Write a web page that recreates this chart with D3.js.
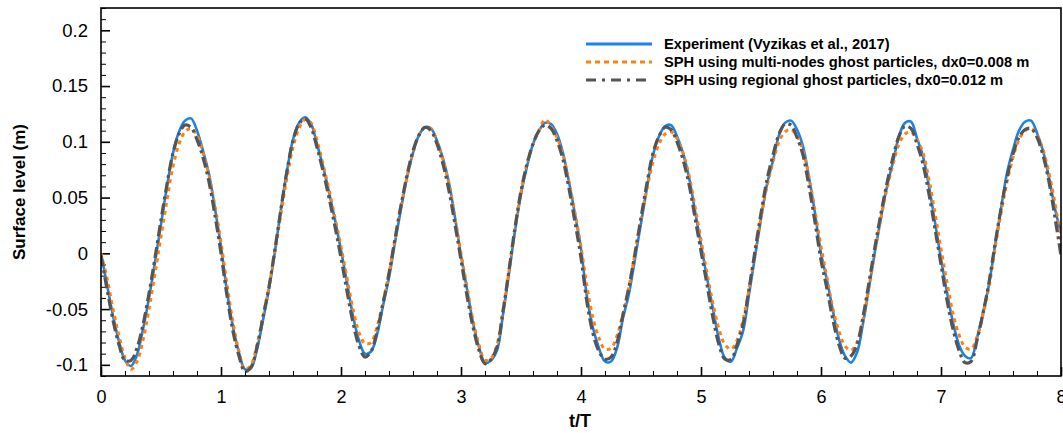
<!DOCTYPE html>
<html><head><meta charset="utf-8">
<script src="https://cdn.jsdelivr.net/npm/d3@7/dist/d3.min.js"></script>
<style>body{margin:0;background:#fff}svg{display:block}text{font-family:"Liberation Sans",Arial,sans-serif}</style>
</head><body><svg id="c" width="1063" height="433"></svg>
<script>
const xTicks = [0,1,2,3,4,5,6,7,8];
const yTicks = [-0.1,-0.05,0,0.05,0.1,0.15,0.2];
const yTickLabels = ["-0.1","-0.05","0","0.05","0.1","0.15","0.2"];
const seriesNames = ["Experiment (Vyzikas et al., 2017)","SPH using multi-nodes ghost particles, dx0=0.008 m","SPH using regional ghost particles, dx0=0.012 m"];
const tStep = 0.05; // t/T sample spacing of the arrays below
const experiment = [
 0.000,-0.028,-0.056,-0.079,-0.096,-0.101,-0.091,-0.068,-0.040,-0.008,
 0.026,0.060,0.090,0.109,0.119,0.121,0.110,0.092,0.071,0.040,
 0.006,-0.034,-0.066,-0.089,-0.104,-0.103,-0.086,-0.060,-0.032,0.002,
 0.040,0.074,0.102,0.117,0.122,0.116,0.098,0.078,0.055,0.030,
 0.003,-0.026,-0.056,-0.078,-0.090,-0.088,-0.073,-0.047,-0.022,0.010,
 0.040,0.068,0.090,0.106,0.113,0.112,0.101,0.085,0.063,0.032,
 -0.002,-0.032,-0.062,-0.084,-0.098,-0.096,-0.087,-0.055,-0.018,0.020,
 0.053,0.078,0.098,0.110,0.117,0.116,0.107,0.090,0.064,0.035,
 0.004,-0.039,-0.067,-0.085,-0.097,-0.097,-0.085,-0.058,-0.036,-0.005,
 0.027,0.059,0.088,0.105,0.114,0.115,0.105,0.090,0.068,0.038,
 0.008,-0.022,-0.050,-0.077,-0.094,-0.097,-0.085,-0.070,-0.037,-0.003,
 0.031,0.062,0.083,0.106,0.117,0.119,0.111,0.096,0.068,0.036,
 0.000,-0.024,-0.052,-0.077,-0.092,-0.098,-0.089,-0.063,-0.031,0.002,
 0.032,0.060,0.082,0.105,0.117,0.118,0.103,0.087,0.060,0.028,
 -0.005,-0.035,-0.062,-0.082,-0.092,-0.094,-0.076,-0.053,-0.028,0.007,
 0.040,0.072,0.093,0.110,0.118,0.119,0.108,0.092,0.068,0.040,
 0.018];
const sphMulti = [
 0.000,-0.022,-0.050,-0.074,-0.094,-0.104,-0.097,-0.078,-0.050,-0.018,
 0.015,0.048,0.078,0.098,0.109,0.112,0.106,0.090,0.070,0.042,
 0.010,-0.028,-0.062,-0.088,-0.104,-0.100,-0.082,-0.057,-0.030,0.002,
 0.036,0.068,0.095,0.112,0.120,0.117,0.101,0.080,0.057,0.032,
 0.006,-0.022,-0.050,-0.071,-0.081,-0.080,-0.066,-0.044,-0.018,0.012,
 0.042,0.068,0.090,0.106,0.113,0.112,0.100,0.084,0.062,0.032,
 0.000,-0.030,-0.060,-0.082,-0.096,-0.094,-0.082,-0.052,-0.016,0.022,
 0.055,0.080,0.098,0.110,0.120,0.114,0.104,0.088,0.064,0.036,
 0.006,-0.030,-0.058,-0.076,-0.086,-0.085,-0.074,-0.054,-0.030,0.000,
 0.030,0.058,0.082,0.098,0.107,0.109,0.103,0.090,0.070,0.042,
 0.012,-0.018,-0.045,-0.068,-0.082,-0.086,-0.078,-0.060,-0.032,0.000,
 0.032,0.060,0.082,0.100,0.109,0.111,0.105,0.092,0.068,0.038,
 0.006,-0.022,-0.050,-0.070,-0.083,-0.087,-0.080,-0.060,-0.030,0.002,
 0.032,0.058,0.080,0.098,0.107,0.109,0.102,0.090,0.066,0.036,
 0.004,-0.026,-0.054,-0.073,-0.084,-0.086,-0.075,-0.055,-0.030,0.004,
 0.036,0.064,0.086,0.102,0.110,0.112,0.106,0.093,0.072,0.045,
 0.012];
const sphRegional = [
 -0.002,-0.032,-0.060,-0.082,-0.096,-0.096,-0.085,-0.064,-0.036,-0.004,
 0.030,0.062,0.090,0.107,0.115,0.113,0.102,0.086,0.064,0.034,
 0.000,-0.038,-0.070,-0.092,-0.106,-0.102,-0.084,-0.057,-0.030,0.004,
 0.040,0.074,0.101,0.116,0.121,0.113,0.095,0.074,0.050,0.024,
 -0.004,-0.034,-0.062,-0.083,-0.093,-0.088,-0.070,-0.045,-0.018,0.013,
 0.043,0.070,0.092,0.106,0.113,0.110,0.098,0.080,0.056,0.026,
 -0.006,-0.038,-0.066,-0.087,-0.099,-0.095,-0.084,-0.052,-0.015,0.023,
 0.056,0.080,0.098,0.110,0.115,0.112,0.101,0.084,0.058,0.028,
 -0.004,-0.044,-0.072,-0.088,-0.095,-0.093,-0.080,-0.055,-0.030,0.000,
 0.032,0.063,0.090,0.105,0.113,0.111,0.100,0.084,0.062,0.032,
 0.002,-0.028,-0.058,-0.082,-0.095,-0.095,-0.082,-0.064,-0.032,0.002,
 0.036,0.066,0.088,0.107,0.116,0.115,0.104,0.088,0.060,0.028,
 -0.006,-0.032,-0.060,-0.082,-0.094,-0.092,-0.082,-0.057,-0.026,0.006,
 0.036,0.063,0.086,0.105,0.114,0.112,0.098,0.080,0.053,0.022,
 -0.010,-0.042,-0.068,-0.087,-0.098,-0.097,-0.078,-0.054,-0.026,0.008,
 0.040,0.068,0.089,0.104,0.111,0.112,0.104,0.088,0.064,0.032,
 -0.002];

const svg = d3.select("#c");
const L = 101, R = 1061, T = 8, B = 376;
const x = d3.scaleLinear().domain([0,8]).range([L,R]);
const y = d3.scaleLinear().domain([-0.11,0.22]).range([B,T]);

svg.append("clipPath").attr("id","clip").append("rect")
  .attr("x",L).attr("y",T).attr("width",R-L).attr("height",B-T);

// minor ticks
const xMinor = d3.range(0,8.0001,0.2).filter(v=>Math.abs(v-Math.round(v))>1e-6);
const yMinor = d3.range(-0.11,0.2201,0.01).map(v=>+v.toFixed(2)).filter(v=>Math.abs(v*20-Math.round(v*20))>1e-6);

const gx = svg.append("g").attr("transform",`translate(0,${B})`)
  .call(d3.axisBottom(x).tickValues(xTicks).tickSizeInner(-9).tickSizeOuter(0).tickPadding(14).tickFormat(d3.format("d")));
gx.select(".domain").remove();
gx.selectAll("text").attr("font-size",18).attr("fill","#000");
gx.selectAll("line").attr("stroke","#000").attr("stroke-width",1.6);
svg.append("g").attr("transform",`translate(0,${B})`)
  .call(d3.axisBottom(x).tickValues(xMinor).tickSizeInner(-5).tickSizeOuter(0).tickFormat(""))
  .call(g=>g.select(".domain").remove())
  .selectAll("line").attr("stroke","#000").attr("stroke-width",1);

const gy = svg.append("g").attr("transform",`translate(${L},0)`)
  .call(d3.axisLeft(y).tickValues(yTicks).tickSizeInner(-9).tickSizeOuter(0).tickPadding(13)
    .tickFormat((d,i)=>yTickLabels[i]));
gy.select(".domain").remove();
gy.selectAll("text").attr("font-size",18.5).attr("fill","#000");
gy.selectAll("line").attr("stroke","#000").attr("stroke-width",1.6);
svg.append("g").attr("transform",`translate(${L},0)`)
  .call(d3.axisLeft(y).tickValues(yMinor).tickSizeInner(-5).tickSizeOuter(0).tickFormat(""))
  .call(g=>g.select(".domain").remove())
  .selectAll("line").attr("stroke","#000").attr("stroke-width",1);

// lines
const line = d3.line().x((d,i)=>x(i*tStep)).y(d=>y(d)).curve(d3.curveCatmullRom.alpha(0.5));
const styles = [
  {data:experiment, color:"#1a82e8", width:2.6, dash:null},
  {data:sphMulti, color:"#ff8010", width:3, dash:"4,4"},
  {data:sphRegional, color:"#555555", width:3.2, dash:"11,4,3,4"}
];
const plot = svg.append("g").attr("clip-path","url(#clip)");
styles.forEach(s=>{
  plot.append("path").datum(s.data).attr("d",line).attr("fill","none")
    .attr("stroke",s.color).attr("stroke-width",s.width)
    .attr("stroke-dasharray",s.dash).attr("stroke-linejoin","round");
});

// frame
svg.append("rect").attr("x",L).attr("y",T).attr("width",R-L).attr("height",B-T)
  .attr("fill","none").attr("stroke","#000").attr("stroke-width",1.6);

// axis titles
svg.append("text").attr("x",(L+R)/2-1).attr("y",427).attr("text-anchor","middle")
  .attr("font-size",18).attr("font-weight","bold").text("t/T");
svg.append("text").attr("transform",`translate(25,192) rotate(-90)`).attr("text-anchor","middle")
  .attr("font-size",17).attr("font-weight","bold").text("Surface level (m)");

// legend
const legY = [44,62,80];
const legDash = [null,"5,4","10,6,3,6"];
styles.forEach((s,i)=>{
  svg.append("line").attr("x1",586).attr("x2",652).attr("y1",legY[i]).attr("y2",legY[i])
    .attr("stroke",s.color).attr("stroke-width",3).attr("stroke-dasharray",legDash[i]);
  svg.append("text").attr("x",664).attr("y",legY[i]+5).attr("font-size",14.7)
    .attr("font-weight","bold").attr("fill","#000").text(seriesNames[i]);
});
</script></body></html>
